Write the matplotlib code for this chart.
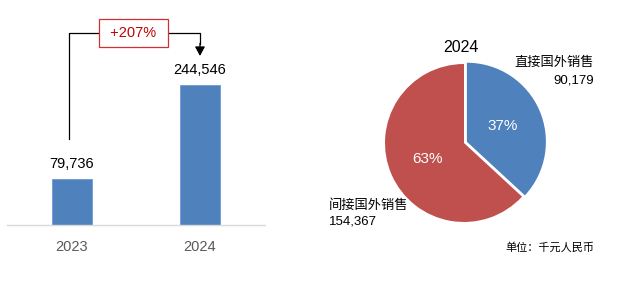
import matplotlib.pyplot as plt
import numpy as np

plt.rcParams['font.family'] = ['Liberation Sans', 'Noto Sans CJK SC', 'DejaVu Sans']

years = ['2023', '2024']
sales = [79736, 244546]
growth_label = '+207%'

pie_title = '2024'
seg_names = ['直接国外销售', '间接国外销售']
seg_values = [90179, 154367]
unit_text = '单位：千元人民币'

blue = '#4F81BD'
red = '#C0504D'

W, H = 623, 286
fig = plt.figure(figsize=(W / 100, H / 100), dpi=100)


def box(left, top, right, bottom):
    return [left / W, 1 - bottom / H, (right - left) / W, (bottom - top) / H]


# ---- bar chart ----
ax = fig.add_axes(box(7, 10, 265, 225))
x = np.arange(len(years))
ax.bar(x, sales, width=0.3125, color=blue, edgecolor='#6C9AD3', linewidth=0.6)
ax.set_xlim(-0.508, 1.508)
ax.set_ylim(0, 215 * 1750)
for s in ['top', 'right', 'left']:
    ax.spines[s].set_visible(False)
ax.spines['bottom'].set_color('#D9D9D9')
ax.spines['bottom'].set_linewidth(1)
ax.set_yticks([])
ax.set_xticks(x)
ax.set_xticklabels(years, fontsize=10.5, color='#595959')
ax.tick_params(axis='x', length=0, pad=11)

for xi, v in zip(x, sales):
    ax.annotate(f'{v:,}', (xi, v), xytext=(0, 6), textcoords='offset points',
                ha='center', va='bottom', fontsize=10.5, color='black')

# growth bracket
y_low = sales[0] * 1.89
y_top = sales[1] * 1.375
y_tip = sales[1] * 1.21
x0 = x[0] - 0.023
ax.plot([x0, x0, x[1], x[1]], [y_low, y_top, y_top, y_tip + 20000],
        color='black', lw=0.9, clip_on=False)
ax.annotate('', xy=(x[1], y_tip), xytext=(x[1], y_tip + 22000),
            arrowprops=dict(arrowstyle='-|>,head_width=0.3,head_length=0.55',
                            color='black', lw=0.9, shrinkA=0, shrinkB=0),
            annotation_clip=False)
ax.text((x0 + x[1]) / 2 - 0.01, y_top, ' ' + growth_label + ' ', ha='center', va='center',
        fontsize=10.5, color='#C00000',
        bbox=dict(boxstyle='square,pad=0.5', fc='white', ec='#D03030', lw=0.9))

# ---- pie chart ----
cx, cy, r = 464, 143, 79
half = 100
pax = fig.add_axes(box(cx - half, cy - half, cx + half, cy + half))
lim = half / r
wedges, texts, autotexts = pax.pie(
    seg_values, colors=[blue, red], startangle=90, counterclock=False,
    explode=[0.04, 0], autopct='%1.0f%%', pctdistance=0.5,
    wedgeprops=dict(linewidth=0),
    textprops=dict(color='white', fontsize=11))
pax.set_xlim(-lim, lim)
pax.set_ylim(-lim, lim)
pax.set_aspect('equal')
pax.axis('off')

fig.text(461 / W, 1 - 48 / H, pie_title, ha='center', va='center', fontsize=11.5)
fig.text(594 / W, 1 - 63 / H, seg_names[0], ha='right', va='center', fontsize=9.5)
fig.text(594 / W, 1 - 80 / H, f'{seg_values[0]:,}', ha='right', va='center', fontsize=9.5)
fig.text(329 / W, 1 - 206 / H, seg_names[1], ha='left', va='center', fontsize=9.5)
fig.text(329 / W, 1 - 221 / H, f'{seg_values[1]:,}', ha='left', va='center', fontsize=9.5)
fig.text(594 / W, 1 - 247 / H, unit_text, ha='right', va='center', fontsize=8)

fig.savefig('out.png', dpi=100)
